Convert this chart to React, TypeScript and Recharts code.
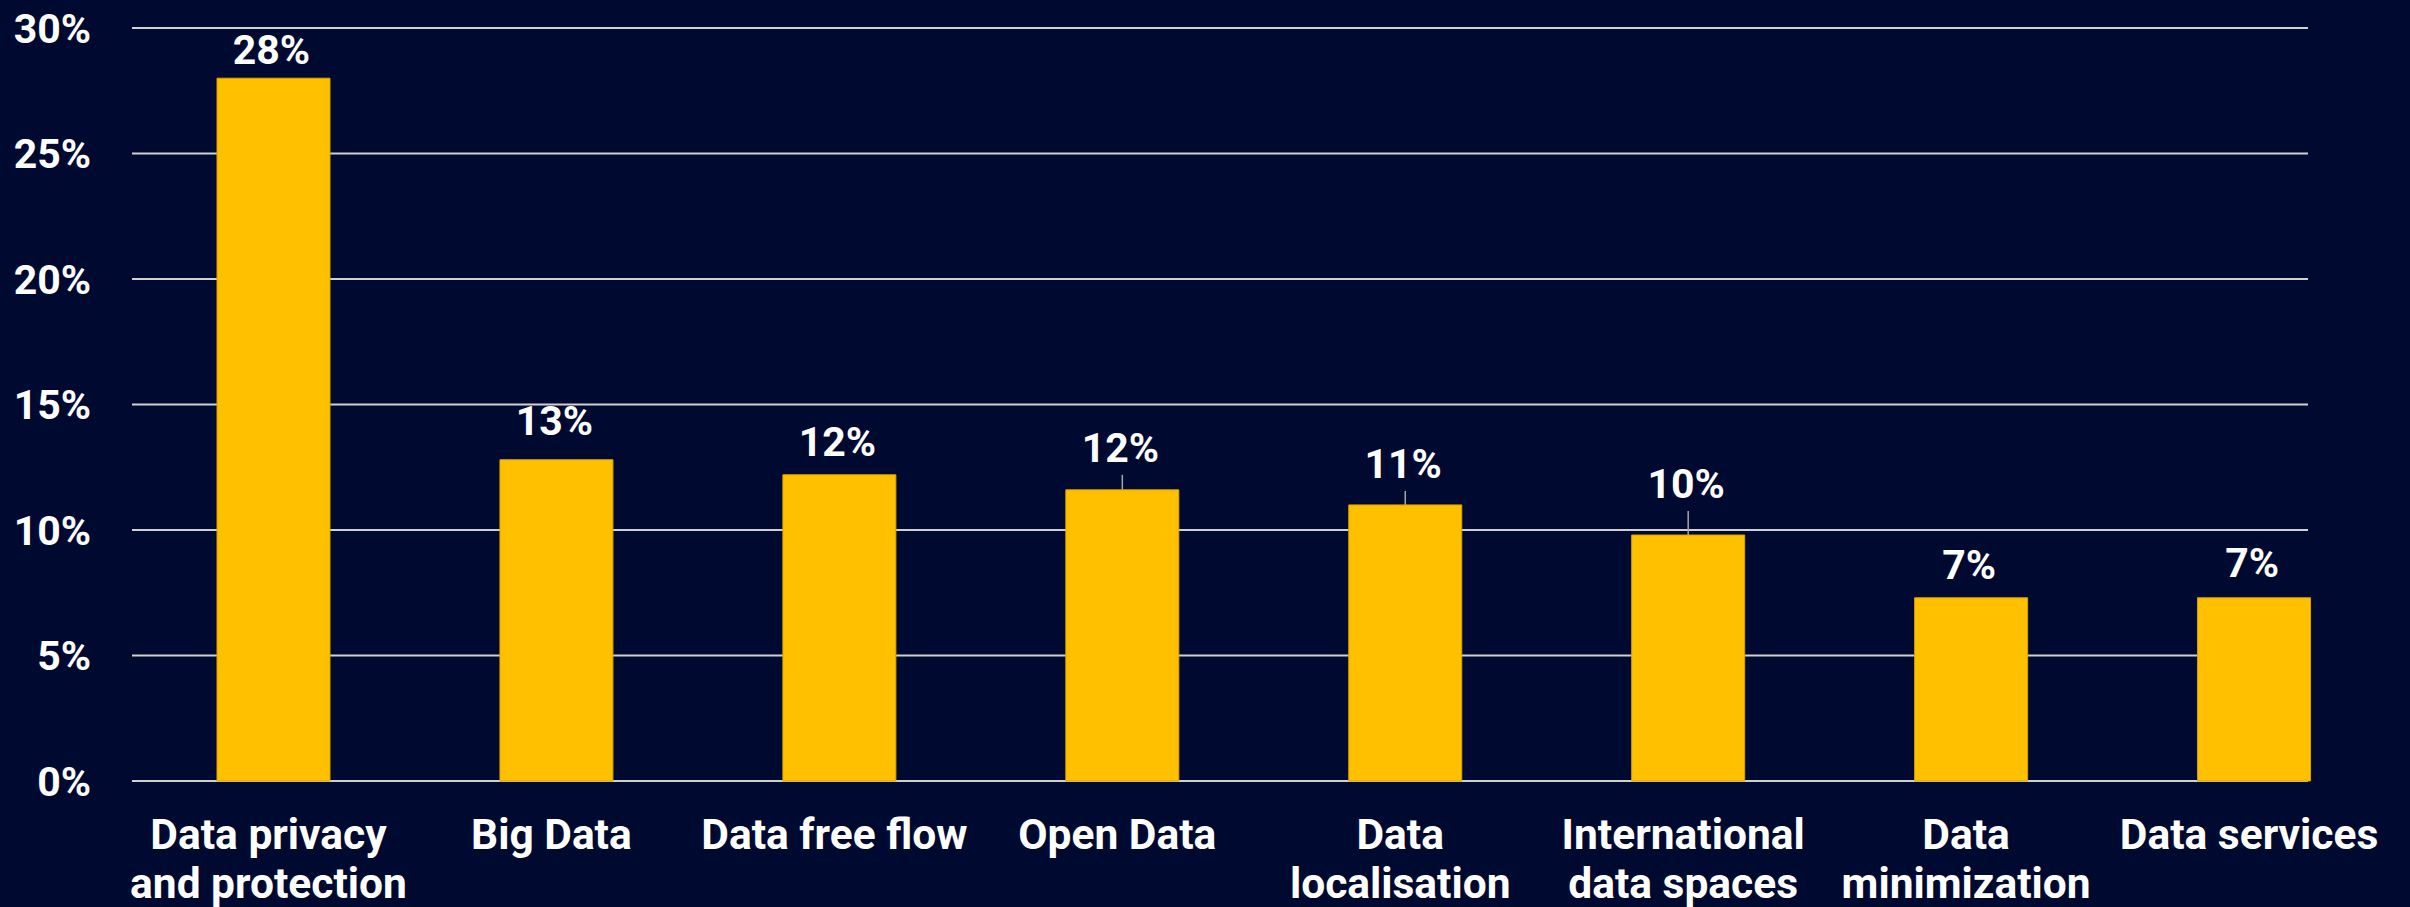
import React from 'react';
import { Bar, BarChart, CartesianGrid, LabelList, XAxis, YAxis } from 'recharts';

const categories = [
  'Data privacy\nand protection',
  'Big Data',
  'Data free flow',
  'Open Data',
  'Data\nlocalisation',
  'International\ndata spaces',
  'Data\nminimization',
  'Data services',
];
const shares = [28.0, 12.8, 12.2, 11.6, 11.0, 9.8, 7.3, 7.3];
const yTicks = [0, 5, 10, 15, 20, 25, 30];

// label placement tweaks (gap above bar, with leader line or not)
const labelGap = [14, 25, 19, 28, 27, 37, 19, 21];
const leader = [false, false, false, true, true, true, false, false];

const data = categories.map((name, i) => ({ name, share: shares[i] }));

const BG = '#000a30';
const FONT = 'Roboto, "Noto Sans", sans-serif';

const CategoryTick = (props: any) => {
  const { x, y, payload } = props;
  const lines = String(payload.value).split('\n');
  const tx = x - 5;
  return (
    <text x={tx} y={y + 68} textAnchor="middle" fill="#ffffff" fontFamily={FONT} fontWeight={700} fontSize={42.5}>
      {lines.map((l, i) => (
        <tspan key={i} x={tx} dy={i === 0 ? 0 : 49}>
          {l}
        </tspan>
      ))}
    </text>
  );
};

const ValueLabel = (props: any) => {
  const { x, y, width, value, index } = props;
  const cx = x + width / 2;
  const base = y - labelGap[index];
  return (
    <g>
      {leader[index] && <line x1={cx} x2={cx} y1={base + 13} y2={y} stroke="#a6a6a6" strokeWidth={1.5} />}
      <text x={cx - 2} y={base} textAnchor="middle" fill="#ffffff" fontFamily={FONT} fontWeight={700} fontSize={41}>
        {`${Math.round(value)}%`}
      </text>
    </g>
  );
};

const App = () => {
  return (
    <div style={{ position: 'fixed', left: 0, top: 0, width: 2410, height: 907, background: BG }}>
      <BarChart width={2410} height={907} data={data} margin={{ top: 28, right: 102, bottom: 0, left: 0 }}>
        <CartesianGrid horizontal vertical={false} stroke="#d0d0d0" strokeWidth={2} />
        <XAxis
          dataKey="name"
          height={126}
          axisLine={false}
          tickLine={false}
          tickSize={0}
          tickMargin={0}
          interval={0}
          padding={{ left: 0, right: -87.5 }}
          tick={<CategoryTick />}
        />
        <YAxis
          width={132}
          domain={[0, 30]}
          ticks={yTicks}
          axisLine={false}
          tickLine={false}
          tickSize={0}
          tickMargin={41}
          tickFormatter={(v: number) => `${v}%`}
          tick={{ fill: '#ffffff', fontFamily: FONT, fontWeight: 700, fontSize: 41 }}
        />
        <Bar dataKey="share" fill="#ffc000" stroke="#d9a400" strokeWidth={1} barSize={113} isAnimationActive={false}>
          <LabelList dataKey="share" content={<ValueLabel />} />
        </Bar>
      </BarChart>
    </div>
  );
};

export default App;
